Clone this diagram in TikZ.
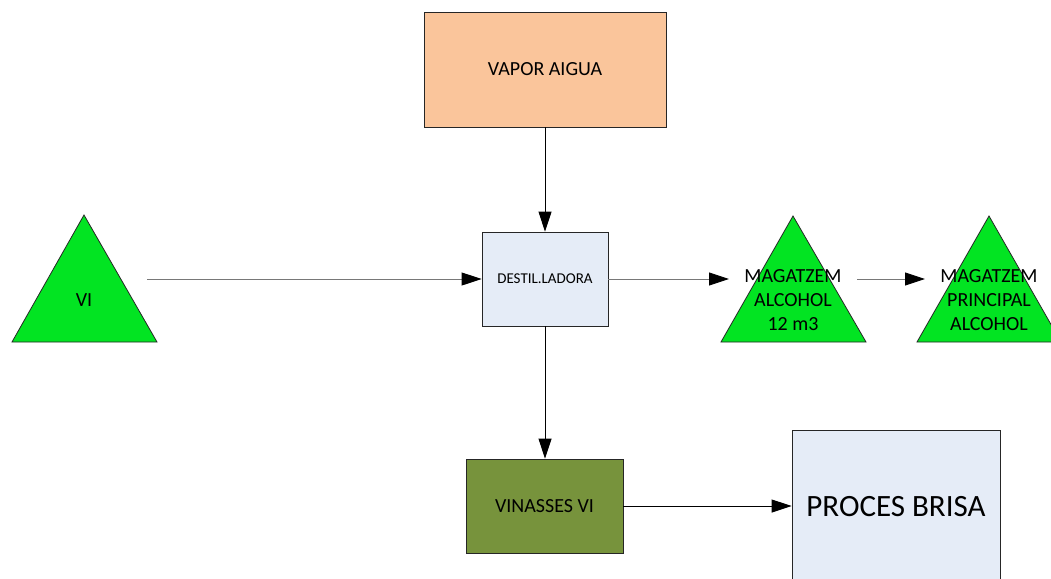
\documentclass[tikz,border=0pt]{standalone}
\usepackage{fontspec}
\setmainfont{Carlito}
\usetikzlibrary{arrows.meta}

\definecolor{vaporfill}{RGB}{250,197,155}
\definecolor{stillfill}{RGB}{229,236,247}
\definecolor{tankgreen}{RGB}{2,228,34}
\definecolor{vinassfill}{RGB}{119,147,60}
\definecolor{flowgray}{RGB}{120,120,120}

\tikzset{
  unit/.style={draw=black!85, line width=0.8pt, inner sep=0pt},
  tank/.style={fill=tankgreen, draw=black!85, line width=0.8pt},
  flow/.style={-{Triangle[length=20pt,width=13pt,color=black]}, line width=0.9pt},
  bigtxt/.style={font=\fontsize{20}{24}\selectfont, align=center},
}

\begin{document}
\begin{tikzpicture}[x=1pt,y=-1pt]
    \useasboundingbox (0,0) rectangle (1051,578);
    \clip (0,0) rectangle (1051,578);

    % boxes
    \node[unit, fill=vaporfill, minimum width=242pt, minimum height=115pt, bigtxt] (vapor) at (545,69.5) {VAPOR AIGUA};
    \node[unit, fill=stillfill, minimum width=126pt, minimum height=94pt, font=\fontsize{15}{18}\selectfont] (destil) at (545,279) {DESTIL.LADORA};
    \node[unit, fill=vinassfill, minimum width=157pt, minimum height=94pt, bigtxt] (vinasses) at (544.5,506) {VINASSES VI};
    \node[unit, fill=stillfill, minimum width=208pt, minimum height=154pt, font=\fontsize{31}{36}\selectfont] (proces) at (896,507) {PROCES BRISA};

    % tanks
    \filldraw[tank] (12,342) -- (84,215) -- (157,342) -- cycle;
    \filldraw[tank] (721,342) -- (793,216) -- (866,342) -- cycle;
    \filldraw[tank] (917,342) -- (989,216) -- (1061,342) -- cycle;

    \node[bigtxt] (vi) at (84,300) {VI};
    \node[bigtxt] (magalc) at (793,300) {MAGATZEM\\ALCOHOL\\12 m3};
    \node[bigtxt] (magprin) at (989,300) {MAGATZEM\\PRINCIPAL\\ALCOHOL};

    \coordinate (vi-out) at (147,279);
    \coordinate (magalc-in) at (729,279);
    \coordinate (magalc-out) at (857,279);
    \coordinate (magprin-in) at (925,279);

    % flows
    \draw[flow] (vapor.south) -- (destil.north);
    \draw[flow, flowgray] (vi-out) -- (destil.west);
    \draw[flow, flowgray] (destil.east) -- (magalc-in);
    \draw[flow, flowgray] (magalc-out) -- (magprin-in);
    \draw[flow] (destil.south) -- (destil.south |- vinasses.north);
    \draw[flow] (vinasses.east) -- (vinasses.east -| proces.west);
\end{tikzpicture}
\end{document}
